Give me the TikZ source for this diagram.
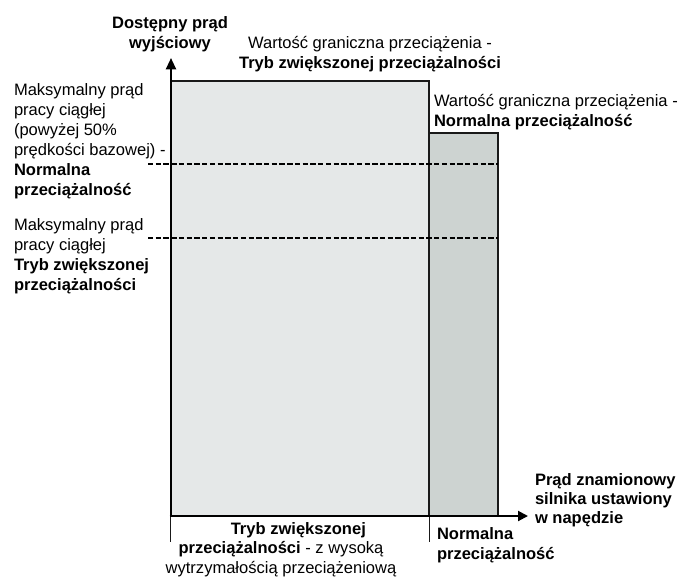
\documentclass[tikz,border=0pt]{standalone}
\usepackage{fontspec}
\setmainfont{Liberation Sans}
\usetikzlibrary{arrows.meta}
\definecolor{lightfill}{RGB}{229,232,232}
\definecolor{darkfill}{RGB}{205,211,209}
\definecolor{edge}{RGB}{25,25,25}
\begin{document}
\begin{tikzpicture}[x=0.75pt,y=-0.75pt,
  txt/.style={inner sep=0pt, outer sep=0pt, font=\fontsize{12.4}{15}\selectfont},
  txtb/.style={inner sep=0pt, outer sep=0pt, font=\fontsize{12.4}{15}\selectfont\bfseries},
  axisline/.style={line width=1.5pt, draw=black},
  barbox/.style={line width=0.8pt, draw=edge},
  guide/.style={line width=1pt, dash pattern=on 4pt off 1.8pt},
  tickline/.style={line width=0.6pt, draw=edge}]
\useasboundingbox (0,0) rectangle (679,583);
% coordinates
\coordinate (O) at (171,516);
\coordinate (Ytip) at (171,58);
\coordinate (Xstart) at (169.5,516);
\coordinate (Xtip) at (528,516);
\coordinate (A1) at (429,81);
\coordinate (A0) at (429,516);
\coordinate (B1) at (498,133);
\coordinate (G1s) at (148,164);
\coordinate (G1e) at (498,164);
\coordinate (G2s) at (148,238);
\coordinate (G2e) at (498,238);
\coordinate (T1a) at (170,516);
\coordinate (T1b) at (170,542);
\coordinate (T2b) at (429,542);
% bars
\filldraw[barbox, fill=lightfill] (O) rectangle (A1);
\filldraw[barbox, fill=darkfill] (A0) rectangle (B1);
% guides
\draw[guide] (G1s) -- (G1e);
\draw[guide] (G2s) -- (G2e);
% ticks
\draw[tickline] (T1a) -- (T1b);
\draw[tickline] (A0) -- (T2b);
% axes
\draw[axisline, -{Triangle[width=7.5pt,length=8.5pt]}] (O) -- (Ytip);
\draw[axisline, -{Triangle[width=7.5pt,length=7.5pt]}] (Xstart) -- (Xtip);
% texts (base anchor = baseline of last line)
\node[txtb, anchor=base, align=center] (ylab) at (170,48.5) {Dostępny prąd\\wyjściowy};
\node[txt, anchor=base, align=center] (lim1) at (370,68) {Wartość graniczna przeciążenia -\\\textbf{Tryb zwiększonej przeciążalności}};
\node[txt, anchor=base west, align=left] (lim2) at (434,126) {Wartość graniczna przeciążenia -\\\textbf{Normalna przeciążalność}};
\node[txt, anchor=base west, align=left] (cont1) at (14,195) {Maksymalny prąd\\pracy ciągłej\\(powyżej 50\%\\prędkości bazowej) -\\\textbf{Normalna}\\\textbf{przeciążalność}};
\node[txt, anchor=base west, align=left] (cont2) at (14,290) {Maksymalny prąd\\pracy ciągłej\\\textbf{Tryb zwiększonej}\\\textbf{przeciążalności}};
\node[txtb, anchor=base west, align=left, font=\fontsize{12.4}{14.25}\selectfont\bfseries] (xlab) at (535,523) {Prąd znamionowy\\silnika ustawiony\\w napędzie};
\node[txt, anchor=base, align=center, font=\fontsize{12.4}{14.5}\selectfont] (heavy) at (281,573) {\hspace*{26pt}\textbf{Tryb zwiększonej}\\\textbf{przeciążalności} - z wysoką\\wytrzymałością przeciążeniową};
\node[txtb, anchor=base west, align=left] (normal) at (437,559) {Normalna\\przeciążalność};
\end{tikzpicture}
\end{document}
